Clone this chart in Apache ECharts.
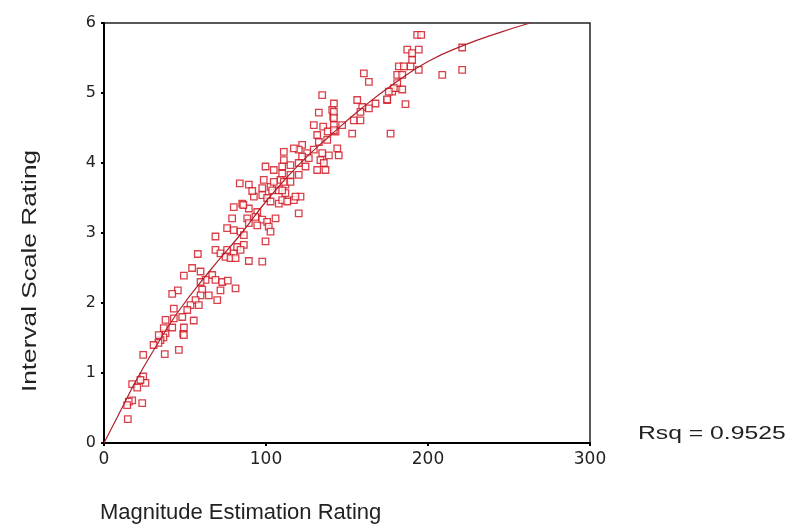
<!DOCTYPE html>
<html>
<head>
<meta charset="utf-8">
<script src="https://cdn.jsdelivr.net/npm/echarts@6/dist/echarts.min.js"></script>
<style>
  html, body { margin: 0; padding: 0; background: #fff; }
  #demo { width: 790px; height: 530px; }
</style>
</head>
<body>
<div id="demo"></div>
<script>
// magnitude estimation (x) vs interval scale rating (y)
var pointsX = [
  48.9, 38, 36.7, 34.9, 33.6, 30.6, 24.2, 37.5, 46.2, 24.2, 25.6, 22.5, 17.4, 20.5, 17.4, 15.3, 14.3, 23.6, 14.7,
  57.9, 68.8, 71.9, 76.0, 80.1, 82.2, 75.0, 78.1, 54.4, 59.6, 49.3, 66.8, 62.7, 59.6, 68.8, 73.0, 76.4, 81.2, 71.9,
  45.6, 42.1, 60.6, 59.6, 64.7, 69.9, 56.5, 53.4, 58.5, 43.1, 51.4, 38.0, 43.1, 48.3, 55.4, 36.9, 42.1, 49.3, 49.3, 33.8,
  83.8, 89.4, 98.6, 102.8, 108.9, 112.0, 107.9, 112.0, 92.5, 97.7, 100.7, 102.8, 107.9, 85.3, 80.1, 89.4, 94.6,
  79.1, 88.4, 93.5, 97.7, 100.7, 105.9, 89.4, 94.6, 101.7, 76.0, 80.1, 84.3, 102.8, 68.8, 86.3, 86.3, 99.7,
  84.3, 81.2, 89.4, 97.7,
  132.6, 140.9, 141.5, 129.5, 135.3, 138.1, 142.9, 131.6, 132.6, 137.8, 144.0, 122.3, 120.2, 117.2, 111.0, 125.4,
  129.5, 134.7, 138.8, 122.3, 126.4, 133.6, 135.7, 111.0, 120.2, 124.4, 99.7, 104.8, 110.0, 115.1, 131.6, 136.7,
  110.0, 115.1, 120.2, 104.8, 111.0, 115.1, 97.7, 103.8, 110.0,
  160.4, 163.5, 182.0, 181.0, 134.7, 141.9, 156.3, 167.6, 174.8, 177.9, 181.0, 141.9, 159.4, 163.5, 158.3, 141.9,
  154.2, 158.3, 141.9, 147.0, 141.9, 153.2, 176.9,
  193.3, 187.2, 194.3, 190.2, 190.2, 189.2, 185.1, 194.3, 184.1, 208.8, 221.1, 221.1, 181.0, 178.9, 184.1, 175.8,
  174.8, 186.1, 195.8,
  120.2, 121.3, 117.2, 110.0, 144.9, 118.2, 113.1, 91.5, 86.0
];
var pointsY = [
  1.56, 1.57, 1.51, 1.47, 1.43, 1.40, 1.26, 1.27, 1.33, 0.95, 0.86, 0.90, 0.84, 0.79, 0.61, 0.59, 0.54, 0.57, 0.34,
  2.70, 2.76, 2.71, 2.76, 2.71, 2.80, 2.66, 2.64, 2.50, 2.45, 2.39, 2.40, 2.33, 2.30, 2.33, 2.30, 2.32, 2.21, 2.18,
  2.18, 2.13, 2.19, 2.11, 2.11, 2.04, 2.04, 1.97, 1.97, 1.92, 1.90, 1.76, 1.78, 1.80, 1.75, 1.64, 1.65, 1.65, 1.54, 1.54,
  3.71, 3.69, 3.76, 3.66, 3.76, 3.69, 3.61, 3.57, 3.52, 3.54, 3.50, 3.45, 3.42, 3.42, 3.37, 3.35, 3.30,
  3.21, 3.21, 3.23, 3.19, 3.16, 3.21, 3.14, 3.11, 3.09, 3.07, 3.04, 3.02, 3.02, 2.95, 2.97, 2.83, 2.88,
  2.76, 2.64, 2.60, 2.59,
  4.72, 4.76, 4.66, 4.54, 4.52, 4.45, 4.45, 4.40, 4.30, 4.33, 4.21, 4.26, 4.19, 4.21, 4.16, 4.14,
  4.19, 4.14, 4.11, 4.09, 4.07, 4.04, 4.00, 4.04, 4.00, 3.95, 3.95, 3.90, 3.95, 3.97, 3.90, 3.90,
  3.85, 3.83, 3.83, 3.73, 3.73, 3.73, 3.64, 3.61, 3.61,
  5.28, 5.16, 5.38, 5.26, 4.97, 4.85, 4.90, 4.85, 4.90, 5.02, 5.07, 4.73, 4.80, 4.78, 4.73, 4.64,
  4.61, 4.61, 4.54, 4.54, 4.47, 4.42, 4.42,
  5.83, 5.62, 5.62, 5.57, 5.47, 5.38, 5.38, 5.33, 5.26, 5.26, 5.33, 5.65, 5.14, 5.07, 5.05, 5.02,
  4.91, 4.84, 5.83,
  3.28, 3.52, 3.47, 3.47, 4.11, 3.52, 3.45, 3.60, 3.40
];
// fitted curve
var fitX = [0, 10, 20, 30, 45, 65, 85, 100, 120, 140, 160, 180, 200, 222, 245, 263];
var fitY = [0, 0.45, 0.9, 1.3, 1.85, 2.45, 3.0, 3.45, 3.97, 4.4, 4.8, 5.15, 5.45, 5.68, 5.87, 6.0];

var scatterData = pointsX.map(function (x, i) { return [x, pointsY[i]]; });
var fitData = fitX.map(function (x, i) { return [x, fitY[i]]; });

var fnt = 'Liberation Sans, Arial, sans-serif';

var option = {
    animation: false,
    backgroundColor: '#fff',
    grid: {
        left: 104, top: 23, right: 200, bottom: 87,
        show: true, borderColor: '#222', borderWidth: 1.5
    },
    xAxis: {
        type: 'value', min: 0, max: 300, interval: 100,
        axisLine: { show: true, onZero: false, lineStyle: { color: '#000', width: 2 } },
        axisTick: { show: true, length: 3, lineStyle: { color: '#000', width: 2 } },
        axisLabel: { color: '#222', fontSize: 17, fontFamily: 'DejaVu Sans', margin: 8 },
        splitLine: { show: false }
    },
    yAxis: {
        type: 'value', min: 0, max: 6, interval: 1,
        axisLine: { show: true, onZero: false, lineStyle: { color: '#000', width: 2 } },
        axisTick: { show: true, length: 3, lineStyle: { color: '#000', width: 2 } },
        axisLabel: { color: '#222', fontSize: 16, fontFamily: 'DejaVu Sans', margin: 8 },
        splitLine: { show: false }
    },
    graphic: [
        {
            type: 'text', left: 100, top: 502,
            style: { text: 'Magnitude Estimation Rating', fontSize: 22, fontFamily: fnt, fill: '#222' }
        },
        {
            type: 'text', x: 30, y: 271, rotation: Math.PI / 2, scaleX: 1.25,
            style: { text: 'Interval Scale Rating', fontSize: 21, fontFamily: fnt, fill: '#222',
                     align: 'center', verticalAlign: 'middle' }
        },
        {
            type: 'text', x: 638, y: 434, scaleX: 1.3,
            style: { text: 'Rsq = 0.9525', fontSize: 19, fontFamily: fnt, fill: '#222',
                     align: 'left', verticalAlign: 'middle' }
        }
    ],
    series: [
        {
            type: 'line',
            data: fitData,
            smooth: true,
            symbol: 'none',
            lineStyle: { color: '#b0202a', width: 1.2 },
            z: 3
        },
        {
            type: 'scatter',
            data: scatterData,
            symbol: 'rect',
            symbolSize: 6.5,
            itemStyle: { color: '#fff', borderColor: '#d0101c', borderWidth: 1.3 },
            z: 2
        }
    ]
};

var myChart = echarts.init(document.getElementById('demo'));
myChart.setOption(option);
</script>
</body>
</html>
